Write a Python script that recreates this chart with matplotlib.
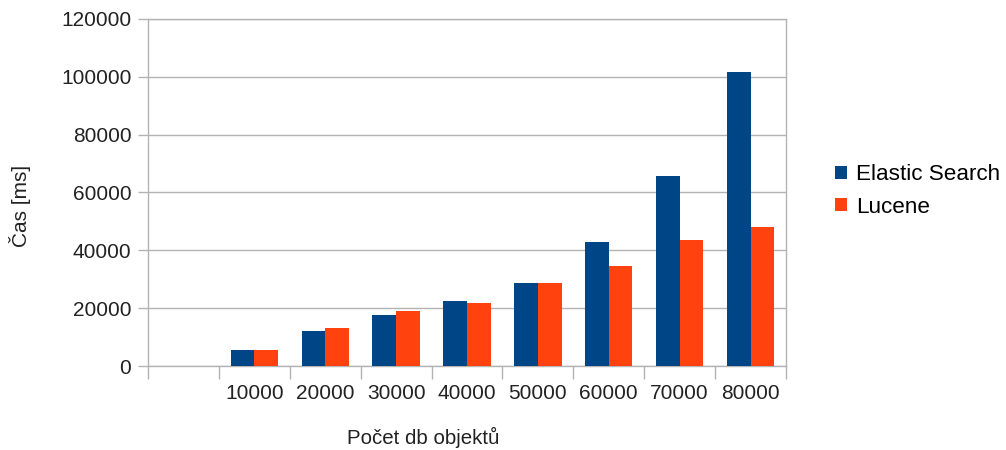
import numpy as np
import matplotlib.pyplot as plt

plt.rcParams['font.family'] = ['Liberation Sans', 'DejaVu Sans']

# pocet objektu v databazi (prvni kategorie je prazdna)
categories = ['', '10000', '20000', '30000', '40000', '50000', '60000', '70000', '80000']
elastic = [0, 5500, 12200, 17600, 22500, 28800, 43000, 65700, 101800]
lucene = [0, 5500, 13000, 19000, 21700, 28800, 34700, 43500, 47900]

blue = '#004586'
orange = '#ff420e'
grid_c = '#b3b3b3'

fig = plt.figure(figsize=(10.06, 4.5), dpi=100)
ax = fig.add_axes([148 / 1006, 1 - 366 / 450, 638 / 1006, 347 / 450])

x = np.arange(len(categories))
w = 0.334
ax.bar(x - w / 2, elastic, w, color=blue, label='Elastic Search', zorder=3)
ax.bar(x + w / 2, lucene, w, color=orange, label='Lucene', zorder=3)

ax.set_xlim(-0.5, len(categories) - 0.5)
ax.set_ylim(0, 120000)
ax.set_yticks(np.arange(0, 120001, 20000))
ax.yaxis.grid(True, color=grid_c, linewidth=1)
ax.set_axisbelow(True)

# znacky na hranicich kategorii, popisky uprostred
ax.set_xticks(np.arange(-0.5, len(categories), 1))
ax.set_xticklabels([])
ax.set_xticks(x, minor=True)
ax.set_xticklabels(categories, minor=True, fontsize=15, color='#222222')
ax.tick_params(axis='x', which='major', length=9, color=grid_c, width=1)
ax.tick_params(axis='x', which='minor', length=0, pad=13)
ax.tick_params(axis='y', length=7, color=grid_c, width=1, labelsize=15,
               labelcolor='#222222', pad=5)

for s in ax.spines.values():
    s.set_color(grid_c)
    s.set_linewidth(1)

fig.text(20 / 1006, 1 - 206 / 450, 'Čas [ms]', rotation=90, fontsize=15,
         ha='center', va='center', color='#222222')
fig.text(423 / 1006, 1 - 437 / 450, 'Počet db objektů', fontsize=14.8,
         ha='center', va='center', color='#222222')

fig.legend(loc='center left', bbox_to_anchor=(819 / 1006, 1 - 191 / 450),
           frameon=False, fontsize=16.2, handlelength=0.55, handleheight=0.55,
           handletextpad=0.4, labelspacing=0.5, borderpad=0.2)

fig.savefig('out.png', dpi=100)
